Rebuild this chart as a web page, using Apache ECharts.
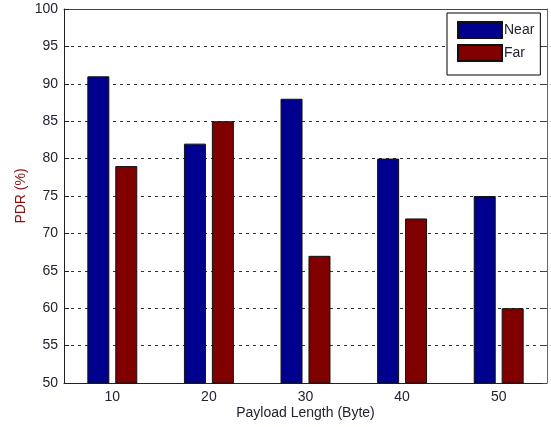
<!DOCTYPE html>
<html>
<head>
<meta charset="utf-8">
<script src="https://cdn.jsdelivr.net/npm/echarts@6/dist/echarts.min.js"></script>
<style>
  html, body { margin: 0; padding: 0; background: #fff; }
  #main { width: 551px; height: 427px; }
</style>
</head>
<body>
<div id="main"></div>
<script>
// payload lengths and PDR values
var categories = ['10', '20', '30', '40', '50'];
var nearPdr = [91, 82, 88, 80, 75];
var farPdr = [79, 85, 67, 72, 60];

var font = 'Liberation Sans, Arial, sans-serif';
var txt = '#222233';

var chart = echarts.init(document.getElementById('main'));
var option = {
  animation: false,
  grid: { left: 64, right: 4, top: 9, bottom: 44 },
  legend: {
    orient: 'vertical',
    left: 447,
    top: 13,
    padding: [8, 6, 13, 10],
    itemGap: 5,
    itemWidth: 44,
    itemHeight: 16,
    icon: 'rect',
    borderColor: '#000',
    borderWidth: 1,
    backgroundColor: '#fff',
    textStyle: { fontFamily: font, fontSize: 14, color: txt, padding: [0, 0, 0, -3] },
    data: ['Near', 'Far']
  },
  xAxis: [{
    type: 'category',
    data: categories,
    name: 'Payload Length (Byte)',
    nameLocation: 'middle',
    nameGap: 23,
    nameMoveOverlap: false,
    nameTextStyle: { fontFamily: font, fontSize: 14, color: txt },
    axisLine: { lineStyle: { color: '#222', width: 1 } },
    axisTick: { inside: true, alignWithLabel: true, length: 5, lineStyle: { color: '#222' } },
    axisLabel: { fontFamily: font, fontSize: 14, color: txt, margin: 7 },
    splitLine: { show: false }
  }, {
    type: 'category',
    data: categories,
    position: 'top',
    axisLine: { lineStyle: { color: '#444', width: 1 } },
    axisTick: { inside: true, alignWithLabel: true, length: 5, lineStyle: { color: '#444' } },
    axisLabel: { show: false }
  }],
  yAxis: [{
    type: 'value',
    min: 50,
    max: 100,
    interval: 5,
    name: 'PDR (%)',
    nameLocation: 'middle',
    nameGap: 36,
    nameMoveOverlap: false,
    nameTextStyle: { fontFamily: font, fontSize: 14, color: '#8b1010' },
    axisLine: { show: true, lineStyle: { color: '#222', width: 1 } },
    axisTick: { show: true, inside: true, length: 5, lineStyle: { color: '#222' } },
    axisLabel: { fontFamily: font, fontSize: 14, color: txt, margin: 6 },
    splitLine: { show: true, lineStyle: { color: '#333', type: [3, 4], width: 1 } }
  }, {
    type: 'value',
    min: 50,
    max: 100,
    interval: 5,
    position: 'right',
    axisLine: { show: true, lineStyle: { color: '#666', width: 1 } },
    axisTick: { show: true, inside: true, length: 5, lineStyle: { color: '#444' } },
    axisLabel: { show: false },
    splitLine: { show: false }
  }],
  series: [{
    name: 'Near',
    type: 'bar',
    data: nearPdr,
    barWidth: 22,
    barGap: '27%',
    itemStyle: { color: '#00008f', borderColor: '#111', borderWidth: 1 }
  }, {
    name: 'Far',
    type: 'bar',
    data: farPdr,
    barWidth: 22,
    itemStyle: { color: '#800000', borderColor: '#111', borderWidth: 1 }
  }]
};
chart.setOption(option);
</script>
</body>
</html>
